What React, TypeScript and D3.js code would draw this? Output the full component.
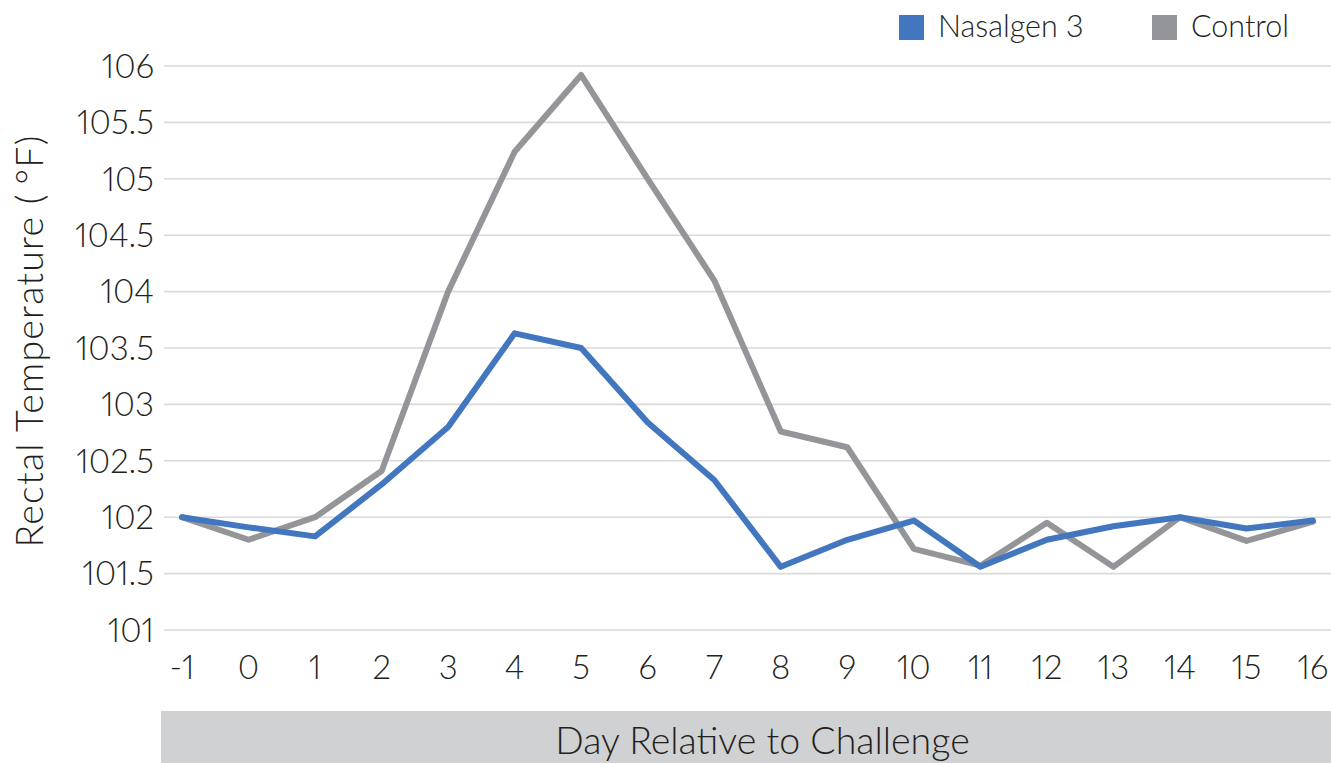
import React from "react";
import * as d3 from "d3";

const days = ["-1", "0", "1", "2", "3", "4", "5", "6", "7", "8", "9", "10", "11", "12", "13", "14", "15", "16"];
const nasalgen = [102.0, 101.91, 101.83, 102.29, 102.8, 103.63, 103.5, 102.84, 102.33, 101.56, 101.8, 101.97, 101.56, 101.8, 101.92, 102.0, 101.9, 101.97];
const control = [102.0, 101.8, 102.0, 102.41, 104.0, 105.24, 105.92, 105.0, 104.1, 102.76, 102.62, 101.72, 101.57, 101.95, 101.56, 102.0, 101.79, 101.96];
const yTicks = [101, 101.5, 102, 102.5, 103, 103.5, 104, 104.5, 105, 105.5, 106];
const seriesNames = ["Nasalgen 3", "Control"];
const colors = ["#4277bf", "#939598"];

const W = 1331;
const H = 763;
const FONT = "Lato, 'Noto Sans', sans-serif";
const numStyle = { fontVariantNumeric: "proportional-nums" } as React.CSSProperties;

export default function App() {
  const x = d3.scalePoint<string>().domain(days).range([182, 1313]);
  const y = d3.scaleLinear().domain([101, 106]).range([630, 66]);
  const line = d3
    .line<number>()
    .x((_, i) => x(days[i]) as number)
    .y((d) => y(d));

  return (
    <svg
      width={W}
      height={H}
      style={{ position: "absolute", left: 0, top: 0, background: "#fff" }}
      fontFamily={FONT}
    >
      {yTicks.map((t) => (
        <g key={t}>
          <line x1={164} x2={W} y1={y(t)} y2={y(t)} stroke="#d9d9d9" strokeWidth={1.6} />
          <text
            x={154}
            y={y(t)}
            dy="0.36em"
            textAnchor="end"
            fontSize={33}
            fontWeight={300}
            fill="#231f20"
            style={numStyle}
          >
            {d3.format("")(t)}
          </text>
        </g>
      ))}
      {days.map((d) => (
        <text
          key={d}
          x={x(d) as number}
          y={679}
          textAnchor="middle"
          fontSize={33}
          fontWeight={300}
          fill="#231f20"
          style={numStyle}
        >
          {d}
        </text>
      ))}
      <path d={line(control) || ""} fill="none" stroke={colors[1]} strokeWidth={6} strokeLinejoin="round" strokeLinecap="round" />
      <path d={line(nasalgen) || ""} fill="none" stroke={colors[0]} strokeWidth={6} strokeLinejoin="round" strokeLinecap="round" />

      <rect x={161} y={711} width={W - 161} height={52} fill="#d0d1d3" />
      <text x={762.5} y={754} textAnchor="middle" fontSize={37.5} fontWeight={300} fill="#231f20">
        Day Relative to Challenge
      </text>

      <text
        transform="translate(43,341) rotate(-90)"
        textAnchor="middle"
        fontSize={37.5}
        fontWeight={300}
        fill="#231f20"
        letterSpacing={1.2}
      >
        Rectal Temperature (<tspan dx={9}>°</tspan>F)
      </text>

      {seriesNames.map((s, i) => {
        const lx = [899, 1152][i];
        return (
          <g key={s}>
            <rect x={lx} y={15} width={25} height={25} fill={colors[i]} />
            <text x={lx + 39} y={37} fontSize={30.5} fontWeight={300} fill="#231f20" style={numStyle}>
              {s}
            </text>
          </g>
        );
      })}
    </svg>
  );
}
